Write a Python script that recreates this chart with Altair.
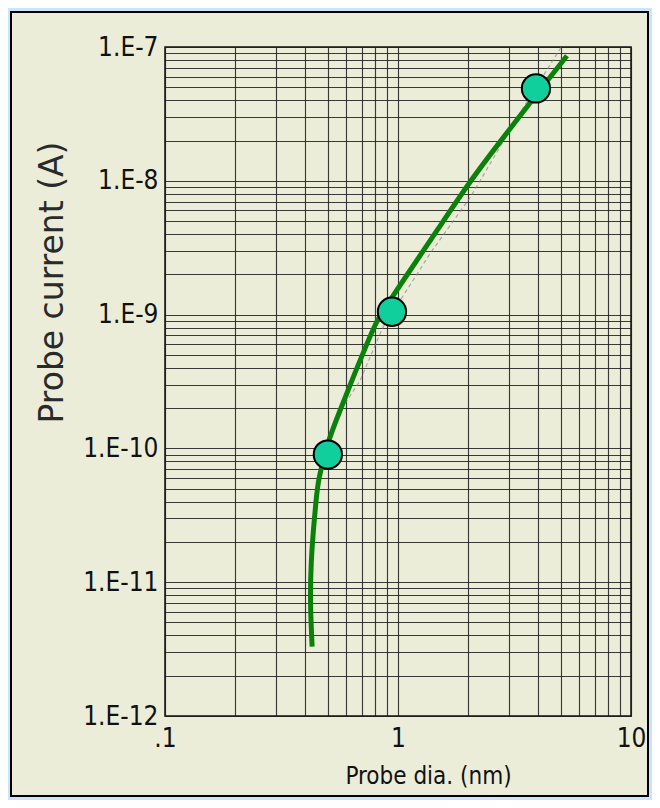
import altair as alt
import pandas as pd

# ---- data ----
CURVE_DIA = [0.428, 0.419, 0.424, 0.432, 0.445, 0.454, 0.496, 0.564, 0.641, 0.736, 0.821, 0.924,
             1.05, 1.47, 2.04, 2.82, 4.36, 5.31]
CURVE_CUR = [3.3e-12, 7.3e-12, 1.46e-11, 2.32e-11, 4.1e-11, 5.77e-11, 1.09e-10, 1.92e-10, 3.39e-10,
             6.08e-10, 9.5e-10, 1.27e-9, 1.79e-9, 4.24e-9, 1.0e-8, 2.09e-8, 5.57e-8, 8.6e-8]

POINT_DIA = [0.50, 0.942, 3.91]
POINT_CUR = [9.0e-11, 1.05e-9, 4.9e-8]

TRACE_DIA = [0.593, 0.687, 0.86, 1.21, 1.37, 2.04, 3.44, 5.11]
TRACE_CUR = [2.17e-10, 3.2e-10, 8.0e-10, 2.02e-9, 2.85e-9, 7.5e-9, 3.5e-8, 1.05e-7]

X_TICK_LABELS = [".1", "1", "10"]
Y_TICK_LABELS = ["1.E-12", "1.E-11", "1.E-10", "1.E-9", "1.E-8", "1.E-7"]

X_DOMAIN = [0.1, 10]
Y_DOMAIN = [1e-12, 1e-7]

# grid positions of the log graph paper (1..9 per decade)
x_grid = [m * 10.0 ** e for e in (-1, 0) for m in range(1, 10)] + [10.0]
y_grid = [m * 10.0 ** e for e in range(-12, -7) for m in range(1, 10)] + [1e-7]

curve_df = pd.DataFrame({"i": range(len(CURVE_DIA)), "dia": CURVE_DIA, "cur": CURVE_CUR})
point_df = pd.DataFrame({"dia": POINT_DIA, "cur": POINT_CUR})
trace_df = pd.DataFrame({"i": range(len(TRACE_DIA)), "dia": TRACE_DIA, "cur": TRACE_CUR})

x_lab = "[" + ",".join("'%s'" % s for s in X_TICK_LABELS) + "]"
y_lab = "[" + ",".join("'%s'" % s for s in Y_TICK_LABELS) + "]"
x_expr = ("abs(log(datum.value)/LN10 - round(log(datum.value)/LN10)) < 0.001 ? "
          + x_lab + "[round(log(datum.value)/LN10) + 1] : ''")
y_expr = ("abs(log(datum.value)/LN10 - round(log(datum.value)/LN10)) < 0.001 ? "
          + y_lab + "[round(log(datum.value)/LN10) + 12] : ''")

NARROW = "Liberation Sans Narrow, Arial Narrow, DejaVu Sans Condensed, sans-serif"

x_enc = alt.X(
    "dia:Q",
    scale=alt.Scale(type="log", domain=X_DOMAIN, nice=False),
    axis=alt.Axis(
        values=x_grid, labelExpr=x_expr, title="Probe dia. (nm)",
        ticks=False, domain=False, grid=True,
        gridColor="#1a1a1a", gridWidth=1.15, gridOpacity=0.85,
        labelFont=NARROW, labelFontSize=26, labelColor="#111", labelPadding=9,
        labelFlush=False, labelOverlap=False,
        titleFont=NARROW, titleFontSize=24, titleFontWeight="normal", titleColor="#111",
        titleX=263, titleY=60, titleBaseline="middle", titleAlign="center",
    ),
)
y_enc = alt.Y(
    "cur:Q",
    scale=alt.Scale(type="log", domain=Y_DOMAIN, nice=False),
    axis=alt.Axis(
        values=y_grid, labelExpr=y_expr, title="Probe current (A)",
        ticks=False, domain=False, grid=True,
        gridColor="#1a1a1a", gridWidth=1.15, gridOpacity=0.85,
        labelFont=NARROW, labelFontSize=26, labelColor="#111", labelPadding=7,
        labelBaseline="middle", labelOverlap=False, labelFlush=False,
        titleFont="DejaVu Sans", titleFontSize=33, titleFontWeight="normal", titleColor="#2a2a2a",
        titleX=-113, titleY=235, titleBaseline="middle", titleAlign="center", titleAngle=270,
    ),
)

frame_data = alt.Data(values=[{"k": 0}])
blue_edge = alt.Chart(frame_data).mark_rect(
    fillOpacity=0, stroke="#c8e4ff", strokeWidth=3
).encode(x=alt.value(-156.5), x2=alt.value(485.5), y=alt.value(-37.5), y2=alt.value(751.5))
frame = alt.Chart(frame_data).mark_rect(
    fillOpacity=0, stroke="#000000", strokeWidth=2
).encode(x=alt.value(-154), x2=alt.value(483), y=alt.value(-35), y2=alt.value(749))

trace = alt.Chart(trace_df).mark_line(
    color="#8a8a80", strokeWidth=1.2, strokeDash=[4, 3], opacity=0.7, clip=True
).encode(x=x_enc, y=y_enc, order="i:Q")

curve = alt.Chart(curve_df).mark_line(
    color="#0a820a", strokeWidth=5, interpolate="basis", clip=True
).encode(x=x_enc, y=y_enc, order="i:Q")

points = alt.Chart(point_df).mark_point(
    filled=True, shape="circle", size=800, fill="#10cf9c", fillOpacity=1,
    stroke="#000000", strokeWidth=2, opacity=1
).encode(x=x_enc, y=y_enc)

chart = alt.layer(blue_edge, frame, trace, curve, points).properties(
    width=466, height=669,
    padding={"left": 157, "top": 39, "right": 21, "bottom": 84},
    autosize=alt.AutoSizeParams(type="none"),
    background="#ecedd9",
).configure_view(
    stroke="#111111", strokeWidth=1.5, fill="#ecedd9"
)

chart.save("out.html", embed_options={"renderer": "svg", "actions": False})
